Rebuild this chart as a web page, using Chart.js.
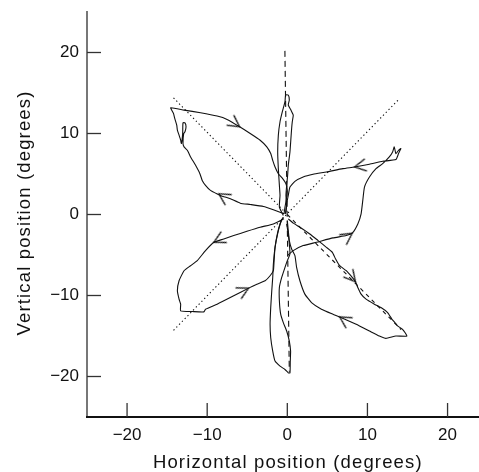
<!DOCTYPE html>
<html>
<head>
<meta charset="utf-8">
<script src="https://cdn.jsdelivr.net/npm/chart.js@4.4.1/dist/chart.umd.min.js"></script>
<style>
  body { margin: 0; background: #fff; }
  #chart { display: block; }
</style>
</head>
<body>
<canvas id="chart" width="479" height="472"></canvas>
<script>
// axis ticks
const xTicks = [-20, -10, 0, 10, 20];
const yTicks = [-20, -10, 0, 10, 20];
const xTitle = "Horizontal position (degrees)";
const yTitle = "Vertical position (degrees)";

// target paths
const targetVertical = [[-0.3, 20.2], [0.25, -19.4]];
const targetDiagUp = [[-14.2, -14.3], [13.9, 14.2]];
const targetDiagDownA = [[-14.2, 14.4], [0, 0]];
const targetDiagDownB = [[0, 0], [14.2, -14.2]];

// eye traces, one loop per direction
const traceUpLeft = [
  [-0.41, 0.08], [-1.74, 0.58], [-2.98, 0.99], [-4.63, 1.24], [-5.87, 1.4],
  [-7.11, 1.94], [-8.35, 2.36], [-9.59, 2.98], [-10.21, 3.6], [-10.62, 4.21],
  [-10.91, 5.04], [-11.45, 6.07], [-12.07, 7.11], [-12.48, 7.93], [-12.89, 8.35],
  [-13.02, 8.76], [-12.93, 10.0], [-12.77, 10.21], [-12.64, 10.83], [-12.77, 11.32],
  [-13.02, 11.32], [-13.06, 10.0], [-13.22, 8.76], [-13.31, 9.17], [-13.51, 9.79],
  [-13.72, 10.41], [-13.8, 11.03], [-14.05, 11.86], [-14.21, 12.48], [-14.55, 13.18],
  [-12.89, 12.89], [-10.83, 12.56], [-8.76, 12.15], [-7.52, 11.74], [-5.95, 10.83],
  [-4.63, 10.0], [-3.39, 9.17], [-2.56, 8.35], [-2.07, 7.52], [-1.82, 6.69],
  [-1.53, 5.87], [-1.12, 5.04], [-0.58, 4.42], [-0.17, 3.8], [0, 2.98],
  [-0.08, 2.15], [-0.29, 0.91], [-0.41, 0.08]
];
const traceUpRight = [
  [0, -5.08], [0.74, -4.46], [1.98, -3.84], [3.64, -3.43], [5.7, -2.89],
  [7.36, -2.6], [8.1, -2.31], [8.8, -1.16], [9.21, 0.08], [9.42, 1.74],
  [9.63, 3.39], [10.25, 4.63], [11.07, 5.66], [11.9, 6.28], [12.73, 7.11],
  [13.14, 7.73], [13.35, 8.35], [13.55, 7.52], [13.88, 7.93], [14.17, 8.14],
  [13.88, 7.52], [13.55, 6.78], [11.9, 6.57], [10.25, 6.2], [8.39, 5.87],
  [6.94, 5.66], [4.88, 5.25], [3.22, 4.96], [1.98, 4.63], [0.95, 4.09],
  [0.33, 3.39], [0.12, 2.36], [-0.08, 1.32], [-0.17, 0.29]
];
const traceDownLeft = [
  [-0.41, -0.54], [-1.74, -1.16], [-3.39, -1.57], [-5.04, -2.07], [-6.69, -2.6],
  [-7.93, -3.02], [-9.17, -3.43], [-10.21, -4.46], [-11.24, -5.7], [-12.07, -6.32],
  [-12.89, -6.94], [-13.51, -8.18], [-13.72, -9.42], [-13.51, -10.45], [-13.31, -11.07],
  [-13.31, -11.9], [-11.86, -11.98], [-10.41, -12.02], [-10.21, -11.69], [-8.76, -11.07],
  [-6.69, -10.04], [-4.83, -9.09], [-3.8, -8.6], [-2.77, -8.18], [-2.15, -7.56],
  [-1.74, -6.94], [-1.65, -5.7], [-1.53, -4.05], [-1.24, -2.4], [-0.91, -1.16],
  [-0.5, -0.33]
];
const traceDownRight = [
  [0.12, -0.54], [0.74, -1.07], [1.57, -1.57], [2.81, -2.4], [3.84, -3.22],
  [4.88, -4.05], [5.62, -4.67], [6.03, -5.5], [6.53, -6.32], [7.36, -6.94],
  [8.1, -7.77], [8.51, -8.31], [8.8, -9.01], [9.21, -9.83], [9.83, -10.45],
  [10.87, -11.07], [11.69, -11.49], [12.52, -12.11], [13.06, -12.93], [13.4, -13.3],
  [13.76, -13.76], [14.38, -14.17], [14.92, -15.0], [13.55, -15.0], [12.31, -15.29],
  [11.49, -15.0], [10.25, -14.38], [8.6, -13.55], [6.53, -12.64], [5.7, -12.31],
  [4.26, -11.69], [3.02, -10.87], [2.19, -9.83], [1.57, -8.18], [1.16, -6.53],
  [0.95, -5.08], [0.54, -4.26], [0.25, -3.22], [0.12, -1.98], [0, -0.74]
];
const traceUp = [
  [-0.5, -0.12], [-0.99, 0.91], [-0.91, 2.36], [-0.99, 3.6], [-1.12, 5.66],
  [-1.2, 7.73], [-1.12, 9.79], [-0.91, 11.45], [-0.62, 12.69], [-0.29, 13.93],
  [-0.21, 14.75], [0.12, 14.75], [0.25, 14.13], [0.12, 13.51], [0.45, 12.89],
  [0.74, 12.27], [0.62, 11.45], [0.54, 10.62], [0.45, 9.38], [0.33, 7.73],
  [0.12, 6.07], [0.04, 4.83], [-0.08, 3.6], [-0.17, 2.36], [-0.08, 1.12],
  [-0.25, 0.08]
];
const traceDown = [
  [-0.7, -0.54], [-1.12, -1.98], [-1.53, -4.05], [-1.74, -6.12], [-1.82, -7.77],
  [-1.94, -9.42], [-2.07, -11.49], [-2.15, -13.55], [-2.07, -15.21], [-1.82, -16.86],
  [-1.53, -18.1], [-0.91, -18.72], [-0.29, -19.13], [0.12, -19.55], [0.33, -19.55],
  [0.37, -18.1], [0.41, -16.86], [0.25, -15.62], [-0.08, -14.38], [-0.5, -13.35],
  [-0.83, -12.31], [-0.99, -10.66], [-0.99, -9.01], [-0.7, -7.77], [-0.29, -6.53],
  [0, -5.7], [0.33, -4.88], [0.25, -3.64], [0.12, -2.4], [-0.08, -1.16]
];

// arrowheads: position and direction of travel (screen degrees, 0 = right)
const arrowX = [-5.95, -8.55, 8.39, 8.1, -9.17, -4.83, 8.51, 6.53];
const arrowY = [10.83, 2.56, 5.87, -2.31, -3.43, -9.09, -8.31, -12.64];
const arrowAngle = [35, 212, 170, -35, 153, -27, 50, 212];

function toPoints(list) {
  return list.map(function (p) {
    return { x: p[0], y: p[1] };
  });
}

function makeChevron() {
  const c = document.createElement("canvas");
  c.width = 32;
  c.height = 32;
  const g = c.getContext("2d");
  const len = 13;
  const half = 28 * Math.PI / 180;
  g.strokeStyle = "#111";
  g.lineWidth = 1.2;
  g.beginPath();
  g.moveTo(16 - len * Math.cos(half), 16 - len * Math.sin(half));
  g.lineTo(16, 16);
  g.lineTo(16 - len * Math.cos(half), 16 + len * Math.sin(half));
  g.stroke();
  return c;
}

function traceSet(list) {
  return {
    data: toPoints(list),
    showLine: true,
    borderColor: "#111",
    borderWidth: 1.1,
    pointRadius: 0,
    tension: 0.15,
    order: 2,
  };
}

function targetSet(list, dash) {
  return {
    data: toPoints(list),
    showLine: true,
    borderColor: "#111",
    borderWidth: 1.1,
    borderDash: dash,
    pointRadius: 0,
    order: 3,
  };
}

const font = "'Liberation Sans', Arial, Helvetica, sans-serif";

function fmt(v) {
  return v < 0 ? "\u2212" + Math.abs(v) : String(v);
}

// ticks point into the plot; the bottom axis runs to the page edge
const innerTicks = {
  id: "innerTicks",
  afterDraw(chart) {
    const ctx = chart.ctx;
    const area = chart.chartArea;
    ctx.save();
    ctx.strokeStyle = "#111";
    ctx.lineWidth = 1.8;
    ctx.beginPath();
    ctx.moveTo(area.left - 1, area.bottom);
    ctx.lineTo(chart.width, area.bottom);
    ctx.stroke();
    ctx.strokeStyle = "#333";
    ctx.lineWidth = 1.3;
    chart.scales.x.ticks.forEach(function (t) {
      const px = chart.scales.x.getPixelForValue(t.value);
      ctx.beginPath();
      ctx.moveTo(px, area.bottom);
      ctx.lineTo(px, area.bottom - 14);
      ctx.stroke();
    });
    chart.scales.y.ticks.forEach(function (t) {
      const py = chart.scales.y.getPixelForValue(t.value);
      ctx.beginPath();
      ctx.moveTo(area.left, py);
      ctx.lineTo(area.left + 14, py);
      ctx.stroke();
    });
    ctx.restore();
  },
};

// axis titles, letter-spaced like the original typesetting
const axisTitles = {
  id: "axisTitles",
  afterDraw(chart) {
    const ctx = chart.ctx;
    const xs = chart.scales.x;
    const ys = chart.scales.y;
    ctx.save();
    ctx.fillStyle = "#111";
    ctx.font = "18.5px " + font;
    ctx.letterSpacing = "1.15px";
    ctx.textAlign = "center";
    ctx.textBaseline = "alphabetic";
    ctx.fillText(xTitle, xs.getPixelForValue(0) + 0.5, chart.height - 4);
    ctx.translate(29.5, ys.getPixelForValue(0) - 1.5);
    ctx.rotate(-Math.PI / 2);
    ctx.fillText(yTitle, 0, 0);
    ctx.restore();
  },
};

new Chart(document.getElementById("chart"), {
  type: "scatter",
  data: {
    datasets: [
      targetSet(targetVertical, [6, 4]),
      targetSet(targetDiagUp, [1.3, 2.7]),
      targetSet(targetDiagDownA, [1.3, 2.7]),
      targetSet(targetDiagDownB, [4, 4]),
      traceSet(traceUpLeft),
      traceSet(traceUpRight),
      traceSet(traceDownLeft),
      traceSet(traceDownRight),
      traceSet(traceUp),
      traceSet(traceDown),
      {
        data: arrowX.map(function (x, i) {
          return { x: x, y: arrowY[i] };
        }),
        showLine: false,
        pointStyle: makeChevron(),
        pointRotation: arrowAngle,
        order: 1,
      },
    ],
  },
  options: {
    responsive: false,
    devicePixelRatio: 1,
    animation: false,
    layout: { padding: { top: 12, right: 0, bottom: 0, left: 0 } },
    plugins: { legend: { display: false }, tooltip: { enabled: false } },
    scales: {
      x: {
        type: "linear",
        min: -25,
        max: 23.3,
        afterBuildTicks: function (scale) {
          scale.ticks = xTicks.map(function (v) { return { value: v }; });
        },
        afterFit: function (scale) {
          scale.height = 55;
          scale.paddingLeft = 0;
          scale.paddingRight = 0;
        },
        grid: { display: true, drawOnChartArea: false, drawTicks: false },
        border: { display: false },
        ticks: {
          color: "#111",
          padding: 8,
          maxRotation: 0,
          font: { family: font, size: 17 },
          callback: fmt,
        },
        title: { display: false },
      },
      y: {
        type: "linear",
        min: -25,
        max: 25,
        afterBuildTicks: function (scale) {
          scale.ticks = yTicks.map(function (v) { return { value: v }; });
        },
        afterFit: function (scale) {
          scale.width = 87;
          scale.paddingTop = 0;
          scale.paddingBottom = 0;
        },
        grid: { display: true, drawOnChartArea: false, drawTicks: false },
        border: { display: true, color: "#777", width: 2 },
        ticks: {
          color: "#111",
          padding: 8,
          font: { family: font, size: 17 },
          callback: fmt,
        },
        title: { display: false },
      },
    },
  },
  plugins: [innerTicks, axisTitles],
});
</script>
</body>
</html>
